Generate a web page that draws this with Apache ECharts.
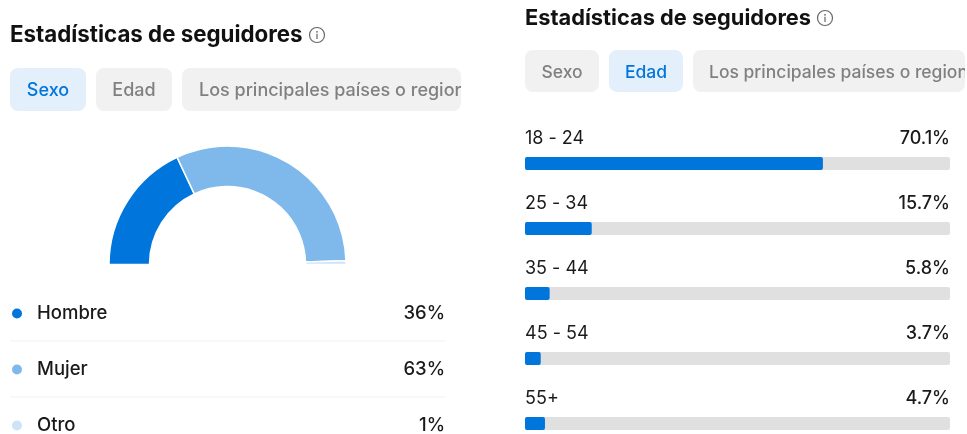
<!DOCTYPE html>
<html>
<head>
<meta charset="utf-8">
<title>Estadísticas de seguidores</title>
<style>
    html, body { margin: 0; padding: 0; background: #fff; }
    #chart { width: 967px; height: 434px; }
</style>
<script src="https://cdn.jsdelivr.net/npm/echarts@6/dist/echarts.min.js"></script>
</head>
<body>
<div id="chart"></div>
<script>
    const heading = 'Estadísticas de seguidores';
    const tabLabels = ['Sexo', 'Edad', 'Los principales países o regiones'];

    const sexCategories = ['Hombre', 'Mujer', 'Otro'];
    const sexValues = [36, 63, 1];
    const sexColors = ['#0075db', '#7fb9ec', '#cce3f8'];

    const ageCategories = ['18 - 24', '25 - 34', '35 - 44', '45 - 54', '55+'];
    const ageValues = [70.1, 15.7, 5.8, 3.7, 4.7];

    const font = 'Inter, "Noto Sans", sans-serif';

    // one tab pill plus its label
    function tab(x, y, w, h, label, textX, active, fontSize) {
        return [
            {
                type: 'rect',
                shape: { x: x, y: y, width: w, height: h, r: 8 },
                style: { fill: active ? '#e3f0fb' : '#f1f1f1' }
            },
            {
                type: 'text',
                x: textX,
                y: y + h / 2 + 1.5,
                style: {
                    text: label,
                    fill: active ? '#0075db' : '#808080',
                    font: '500 ' + fontSize + 'px ' + font,
                    align: textX === x + w / 2 ? 'center' : 'left',
                    verticalAlign: 'middle'
                }
            }
        ];
    }

    function infoIcon(cx, cy) {
        return [
            { type: 'circle', shape: { cx: cx, cy: cy, r: 7.5 }, style: { fill: 'none', stroke: '#666', lineWidth: 1.2 } },
            { type: 'circle', shape: { cx: cx, cy: cy - 3.2, r: 0.9 }, style: { fill: '#666' } },
            { type: 'rect', shape: { x: cx - 0.6, y: cy - 1.2, width: 1.2, height: 5.2 }, style: { fill: '#666' } }
        ];
    }

    function separator(y) {
        return {
            type: 'line',
            shape: { x1: 10, y1: y, x2: 445, y2: y },
            style: { stroke: '#f1f1f1', lineWidth: 1 }
        };
    }

    const graphics = [].concat(
        tab(10, 68, 76, 43, tabLabels[0], 48, true, 18),
        tab(96, 68, 76, 43, tabLabels[1], 134, false, 18),
        tab(182, 68, 279, 43, tabLabels[2], 199, false, 18),
        // hides the end of the scrolled tab on the left panel
        [{ type: 'rect', z: 50, shape: { x: 461, y: 60, width: 50, height: 60 }, style: { fill: '#fff' } }],
        tab(525, 50, 74, 42, tabLabels[0], 562, false, 17.5),
        tab(609, 50, 74, 42, tabLabels[1], 646, true, 17.5),
        tab(693, 50, 272, 42, tabLabels[2], 709, false, 17.5),
        [{ type: 'rect', z: 50, shape: { x: 965, y: 45, width: 2, height: 50 }, style: { fill: '#fff' } }],
        infoIcon(317, 35),
        infoIcon(825, 18),
        [separator(341), separator(397)]
    );

    const myChart = echarts.init(document.getElementById('chart'), null, { renderer: 'canvas' });
    myChart.setOption({
        animation: false,
        backgroundColor: '#fff',
        textStyle: { fontFamily: font },
        title: [
            { text: heading, left: 10, top: 24, padding: 0, textStyle: { fontFamily: font, fontSize: 22.3, fontWeight: 700, color: '#111' } },
            { text: heading, left: 525, top: 7, padding: 0, textStyle: { fontFamily: font, fontSize: 21.8, fontWeight: 700, color: '#111' } }
        ],
        legend: {
            orient: 'vertical',
            left: 10,
            top: 304,
            height: 170,
            padding: 0,
            icon: 'circle',
            itemWidth: 12,
            itemHeight: 12,
            itemGap: 37,
            selectedMode: false,
            data: sexCategories,
            formatter: function (name) {
                return '{name|' + name + '}{val|' + sexValues[sexCategories.indexOf(name)] + '%}';
            },
            textStyle: {
                rich: {
                    name: { width: 340, padding: [0, 0, 0, 9], fontFamily: font, fontSize: 18.5, fontWeight: 500, color: '#1a1a1a', lineHeight: 25 },
                    val: { width: 68, align: 'right', fontFamily: font, fontSize: 18.5, fontWeight: 500, color: '#1a1a1a', lineHeight: 25 }
                }
            }
        },
        grid: { left: 525, width: 425, top: 163.5, height: 260 },
        xAxis: { type: 'value', min: 0, max: 100, show: false },
        yAxis: [
            {
                type: 'category',
                inverse: true,
                boundaryGap: false,
                data: ageCategories,
                axisLine: { show: false },
                axisTick: { show: false },
                axisLabel: {
                    inside: true,
                    interval: 0,
                    margin: 0,
                    align: 'left',
                    verticalAlign: 'bottom',
                    padding: [0, 0, 16, 0],
                    fontFamily: font,
                    fontSize: 18,
                    color: '#1a1a1a'
                }
            },
            {
                type: 'category',
                inverse: true,
                position: 'right',
                boundaryGap: false,
                data: ageValues.map(function (v) { return v + '%'; }),
                axisLine: { show: false },
                axisTick: { show: false },
                axisLabel: {
                    inside: true,
                    interval: 0,
                    margin: 0,
                    align: 'right',
                    verticalAlign: 'bottom',
                    padding: [0, 0, 16, 0],
                    fontFamily: font,
                    fontSize: 18,
                    fontWeight: 500,
                    color: '#1a1a1a'
                }
            }
        ],
        series: [
            {
                name: 'Sexo',
                type: 'pie',
                center: [227.5, 264.5],
                radius: [78, 118.5],
                startAngle: 180,
                endAngle: 0,
                label: { show: false },
                labelLine: { show: false },
                itemStyle: { borderColor: '#fff', borderWidth: 1.5 },
                data: sexCategories.map(function (name, i) {
                    return { name: name, value: sexValues[i], itemStyle: { color: sexColors[i] } };
                })
            },
            {
                name: 'Edad',
                type: 'bar',
                yAxisIndex: 0,
                barWidth: 13,
                data: ageValues,
                itemStyle: { color: '#0075db', borderRadius: 2 },
                showBackground: true,
                backgroundStyle: { color: '#e0e0e0', borderRadius: 2 }
            }
        ],
        graphic: { elements: graphics }
    });
</script>
</body>
</html>
